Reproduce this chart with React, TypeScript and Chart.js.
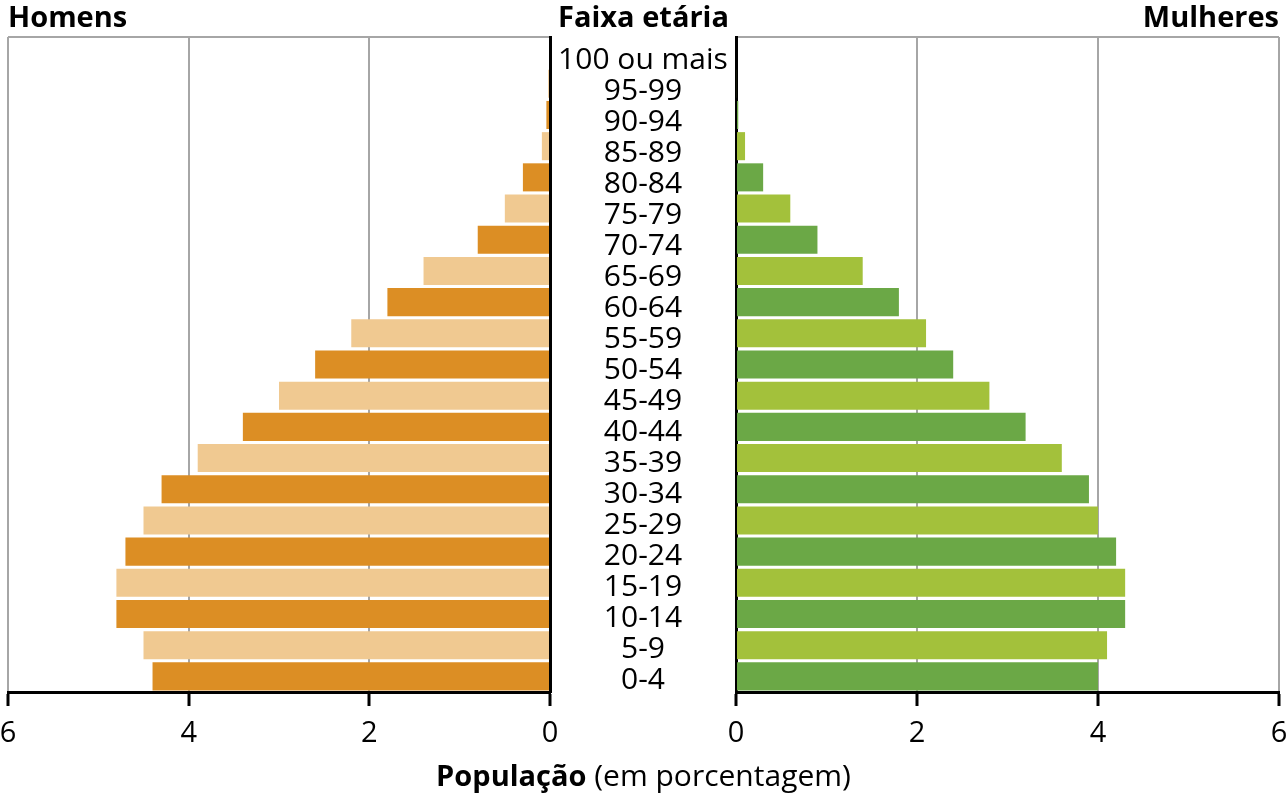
import React, { useEffect, useRef } from "react";
import { Chart, registerables } from "chart.js";

Chart.register(...registerables);

const ageGroups = [
  "100 ou mais", "95-99", "90-94", "85-89", "80-84", "75-79", "70-74",
  "65-69", "60-64", "55-59", "50-54", "45-49", "40-44", "35-39",
  "30-34", "25-29", "20-24", "15-19", "10-14", "5-9", "0-4",
];
const menValues = [
  0, 0.02, 0.04, 0.09, 0.3, 0.5, 0.8, 1.4, 1.8, 2.2, 2.6, 3.0, 3.4, 3.9,
  4.3, 4.5, 4.7, 4.8, 4.8, 4.5, 4.4,
];
const womenValues = [
  0, 0.01, 0.025, 0.1, 0.3, 0.6, 0.9, 1.4, 1.8, 2.1, 2.4, 2.8, 3.2, 3.6,
  3.9, 4.0, 4.2, 4.3, 4.3, 4.1, 4.0,
];
const xTickValues = [0, 2, 4, 6];
const menColors = ["#DC8E24", "#F0C991"];
const womenColors = ["#6BA846", "#A3C13B"];

const FAMILY = "'Open Sans', sans-serif";
const FONT_SIZE = 29;
const LABEL_SIZE = 30;
const GRID_GREY = "#a6a6a6";
// range of the label scale (in category index units)
const LABEL_MIN = -0.758;
const LABEL_MAX = 20.371;

function xScale(reverse: boolean) {
  return {
    type: "linear" as const,
    min: 0,
    max: 6,
    reverse,
    position: "bottom" as const,
    afterBuildTicks: (s: any) => {
      s.ticks = xTickValues.map((v) => ({ value: v }));
    },
    ticks: {
      font: { family: FAMILY, size: FONT_SIZE },
      color: "#000",
      padding: 10,
      maxRotation: 0,
      autoSkip: false,
    },
    grid: {
      color: GRID_GREY,
      lineWidth: 2,
      tickColor: "#000",
      tickWidth: 3,
      tickLength: 14,
    },
    border: { color: "#000", width: 3 },
    afterFit: (s: any) => {
      s.height = 107;
      s.paddingLeft = 0;
      s.paddingRight = 0;
    },
  };
}

const topGrid = {
  color: (ctx: any) => (ctx.index === 0 ? GRID_GREY : "rgba(0,0,0,0)"),
  lineWidth: 2,
  drawTicks: false,
  offset: true,
};

export default function App() {
  const leftRef = useRef<HTMLCanvasElement>(null);
  const rightRef = useRef<HTMLCanvasElement>(null);

  useEffect(() => {
    const mctx = document.createElement("canvas").getContext("2d")!;
    mctx.font = `normal ${LABEL_SIZE}px ${FAMILY}`;
    const widest = Math.max(...ageGroups.map((l) => mctx.measureText(l).width));
    const labelPadding = Math.max(0, 93 - widest / 2);

    const left = new Chart(leftRef.current!, {
      type: "bar",
      data: {
        labels: ageGroups,
        datasets: [
          {
            data: menValues,
            backgroundColor: menValues.map((_, i) => menColors[i % 2]),
            barPercentage: 0.9,
            categoryPercentage: 1,
            borderWidth: 0,
          },
        ],
      },
      options: {
        indexAxis: "y",
        animation: false,
        responsive: false,
        maintainAspectRatio: false,
        layout: { padding: { left: 8, top: 37, right: 0, bottom: 0 } },
        plugins: {
          legend: { display: false },
          tooltip: { enabled: false },
        },
        scales: {
          x: xScale(true),
          y: {
            type: "category",
            position: "right",
            offset: true,
            ticks: { display: false },
            grid: topGrid,
            border: { color: "#000", width: 3 },
            afterFit: (s: any) => {
              s.width = 20;
            },
          },
        },
      } as any,
    });

    const right = new Chart(rightRef.current!, {
      type: "bar",
      data: {
        labels: ageGroups,
        datasets: [
          {
            data: womenValues,
            backgroundColor: womenValues.map((_, i) => womenColors[i % 2]),
            barPercentage: 0.9,
            categoryPercentage: 1,
            borderWidth: 0,
          },
        ],
      },
      options: {
        indexAxis: "y",
        animation: false,
        responsive: false,
        maintainAspectRatio: false,
        layout: { padding: { left: 0, top: 37, right: 8, bottom: 0 } },
        plugins: {
          legend: { display: false },
          tooltip: { enabled: false },
        },
        scales: {
          x: xScale(false),
          y: {
            type: "category",
            position: "left",
            offset: true,
            weight: 0,
            ticks: { display: false },
            grid: topGrid,
            border: { color: "#000", width: 3 },
            afterFit: (s: any) => {
              s.width = 0;
            },
          },
          yLabels: {
            type: "linear",
            position: "left",
            weight: 1,
            offset: false,
            min: LABEL_MIN,
            max: LABEL_MAX,
            reverse: true,
            afterBuildTicks: (s: any) => {
              s.ticks = ageGroups.map((_, i) => ({ value: i }));
            },
            ticks: {
              display: true,
              autoSkip: false,
              crossAlign: "center",
              padding: labelPadding,
              color: "#000",
              font: { family: FAMILY, size: LABEL_SIZE },
              callback: (_v: any, i: number) => ageGroups[i],
            },
            grid: { display: false, drawTicks: false, offset: false },
            border: { display: false },
            afterFit: (s: any) => {
              s.width = 184;
            },
          },
        },
      } as any,
    });

    return () => {
      left.destroy();
      right.destroy();
    };
  }, []);

  const titleStyle: React.CSSProperties = {
    position: "absolute",
    top: 1,
    fontFamily: FAMILY,
    fontWeight: 700,
    fontSize: FONT_SIZE,
    lineHeight: "29px",
    color: "#000",
    whiteSpace: "nowrap",
  };

  return (
    <div
      style={{
        position: "absolute",
        left: 0,
        top: 0,
        width: 1287,
        height: 799,
        background: "#fff",
        overflow: "hidden",
      }}
    >
      <canvas
        ref={leftRef}
        width={570}
        height={799}
        style={{ position: "absolute", left: 0, top: 0 }}
      />
      <canvas
        ref={rightRef}
        width={735}
        height={799}
        style={{ position: "absolute", left: 552, top: 0 }}
      />
      <div style={{ ...titleStyle, left: 8 }}>Homens</div>
      <div style={{ ...titleStyle, left: 0, width: 1287, textAlign: "center" }}>
        Faixa etária
      </div>
      <div style={{ ...titleStyle, right: 8, textAlign: "right" }}>Mulheres</div>
      <div
        style={{
          position: "absolute",
          left: 0,
          width: 1287,
          top: 760,
          textAlign: "center",
          fontFamily: FAMILY,
          fontSize: LABEL_SIZE,
          lineHeight: "29px",
          color: "#000",
          whiteSpace: "nowrap",
        }}
      >
        <b style={{ fontSize: FONT_SIZE }}>População</b> (em porcentagem)
      </div>
    </div>
  );
}
